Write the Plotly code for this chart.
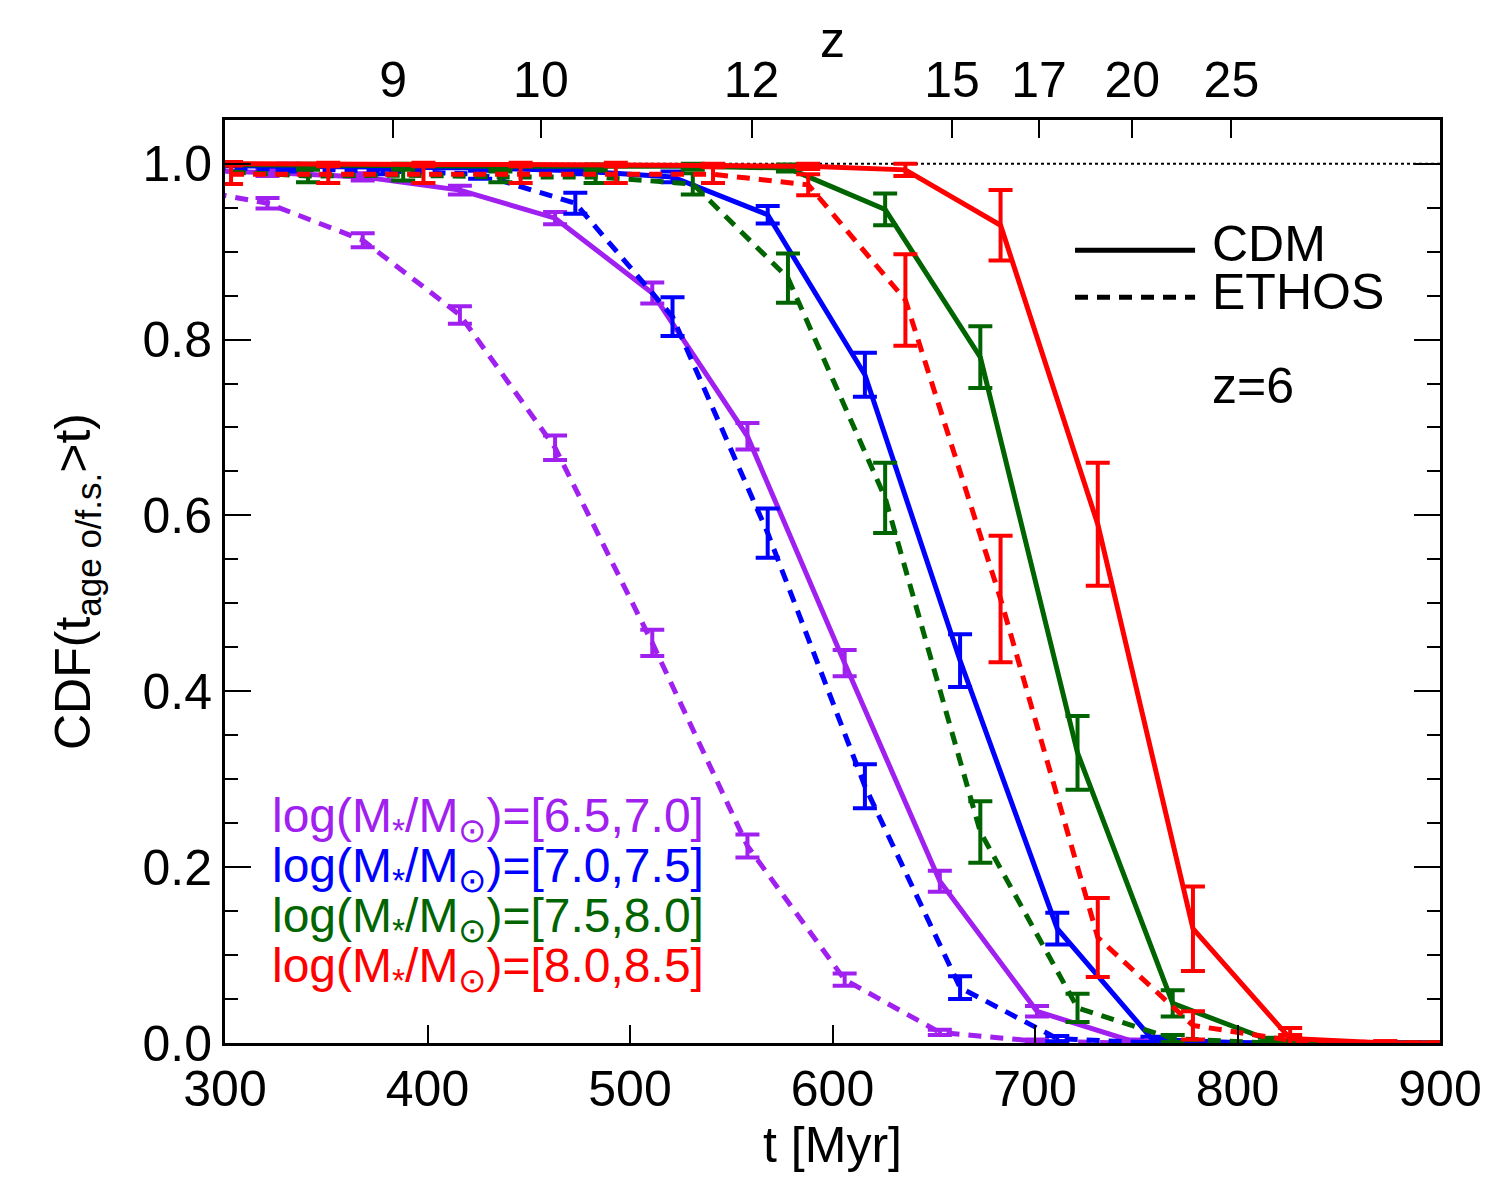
import plotly.graph_objects as go

# ---------------- data ----------------
t_purple = [273, 321, 368, 416, 463, 511, 558, 606, 653, 701, 748, 796, 843, 891]
t_blue   = [283, 331, 378, 426, 473, 521, 568, 616, 663, 711, 758, 806, 853, 901]
t_green  = [293, 341, 388, 436, 483, 531, 578, 626, 673, 721, 768, 816, 863, 911]
t_red    = [303, 351, 398, 446, 493, 541, 588, 636, 683, 731, 778, 826, 873, 921]

cdm_purple   = [0.993, 0.990, 0.985, 0.970, 0.938, 0.853, 0.690, 0.432, 0.184, 0.036, 0.002, 0.0, 0.0, 0.0]
cdm_purple_e = [0.003, 0.004, 0.004, 0.005, 0.007, 0.012, 0.015, 0.015, 0.012, 0.006, 0.002, 0.0, 0.0, 0.0]
eth_purple   = [0.975, 0.955, 0.913, 0.828, 0.677, 0.455, 0.224, 0.072, 0.012, 0.002, 0.0, 0.0, 0.0, 0.0]
eth_purple_e = [0.004, 0.006, 0.008, 0.010, 0.014, 0.015, 0.013, 0.007, 0.003, 0.002, 0.0, 0.0, 0.0, 0.0]

cdm_blue   = [0.998, 0.997, 0.996, 0.995, 0.992, 0.985, 0.942, 0.760, 0.435, 0.130, 0.004, 0.0, 0.0, 0.0]
cdm_blue_e = [0.002, 0.003, 0.003, 0.003, 0.004, 0.006, 0.010, 0.025, 0.030, 0.018, 0.003, 0.0, 0.0, 0.0]
eth_blue   = [0.996, 0.994, 0.992, 0.988, 0.955, 0.826, 0.580, 0.292, 0.063, 0.005, 0.0, 0.0, 0.0, 0.0]
eth_blue_e = [0.003, 0.003, 0.004, 0.005, 0.012, 0.022, 0.028, 0.025, 0.013, 0.003, 0.001, 0.0, 0.0, 0.0]

cdm_green   = [0.999, 0.998, 0.998, 0.997, 0.997, 0.997, 0.995, 0.948, 0.780, 0.330, 0.045, 0.003, 0.0, 0.0]
cdm_green_e = [0.002, 0.002, 0.002, 0.002, 0.002, 0.003, 0.004, 0.018, 0.035, 0.042, 0.015, 0.003, 0.0, 0.0]
eth_green   = [0.992, 0.986, 0.987, 0.985, 0.985, 0.977, 0.870, 0.620, 0.240, 0.040, 0.005, 0.0, 0.0, 0.0]
eth_green_e = [0.005, 0.007, 0.006, 0.006, 0.007, 0.012, 0.028, 0.040, 0.035, 0.016, 0.004, 0.001, 0.0, 0.0]

cdm_red   = [1.000, 0.999, 0.999, 0.999, 0.999, 0.998, 0.997, 0.993, 0.930, 0.590, 0.130, 0.005, 0.0, 0.0]
cdm_red_e = [0.002, 0.002, 0.002, 0.002, 0.002, 0.002, 0.003, 0.007, 0.040, 0.070, 0.048, 0.012, 0.002, 0.0]
eth_red   = [0.988, 0.988, 0.988, 0.988, 0.988, 0.988, 0.976, 0.845, 0.505, 0.120, 0.020, 0.003, 0.0, 0.0]
eth_red_e = [0.011, 0.010, 0.010, 0.010, 0.010, 0.010, 0.012, 0.052, 0.072, 0.045, 0.016, 0.006, 0.002, 0.0]

bin_labels = ["[6.5,7.0]", "[7.0,7.5]", "[7.5,8.0]", "[8.0,8.5]"]

z_ticks_t = [383, 456, 560, 659, 702, 748, 797]
z_ticks_label = ["9", "10", "12", "15", "17", "20", "25"]

x_ticks = [300, 400, 500, 600, 700, 800, 900]
y_ticks = [0.0, 0.2, 0.4, 0.6, 0.8, 1.0]

# ---------------- styling ----------------
PURPLE = "#A020F0"
BLUE = "#0000FF"
GREEN = "#006400"
RED = "#FF0000"
FONT = "Liberation Sans, Arial, Helvetica, sans-serif"
FS = 48
FT = 50
DASH = "13px,9px"

series = [
    (t_purple, cdm_purple, cdm_purple_e, eth_purple, eth_purple_e, PURPLE),
    (t_blue, cdm_blue, cdm_blue_e, eth_blue, eth_blue_e, BLUE),
    (t_green, cdm_green, cdm_green_e, eth_green, eth_green_e, GREEN),
    (t_red, cdm_red, cdm_red_e, eth_red, eth_red_e, RED),
]

fig = go.Figure()
for t, c, ce, e, ee, col in series:
    fig.add_trace(go.Scatter(
        x=t, y=c, mode="lines", line=dict(color=col, width=5),
        error_y=dict(type="data", array=ce, color=col, thickness=4, width=12, visible=True),
        showlegend=False, hoverinfo="skip"))
    fig.add_trace(go.Scatter(
        x=t, y=e, mode="lines", line=dict(color=col, width=5, dash=DASH),
        error_y=dict(type="data", array=ee, color=col, thickness=4, width=12, visible=True),
        showlegend=False, hoverinfo="skip"))

# dummy trace to activate the secondary (top / right) axes
fig.add_trace(go.Scatter(x=[x_ticks[0]], y=[None], xaxis="x2", yaxis="y2",
                         mode="lines", showlegend=False, hoverinfo="skip"))

# reference line at CDF = 1
fig.add_shape(type="line", xref="paper", x0=0, x1=1, yref="y", y0=1.0, y1=1.0,
              line=dict(color="black", width=2, dash="dot"), layer="below")

# legend for line styles
fig.add_shape(type="line", xref="paper", yref="paper", x0=0.6996, x1=0.7984, y0=0.859, y1=0.859,
              line=dict(color="black", width=5))
fig.add_shape(type="line", xref="paper", yref="paper", x0=0.6996, x1=0.7984, y0=0.808, y1=0.808,
              line=dict(color="black", width=5, dash=DASH))
fig.add_annotation(xref="paper", yref="paper", x=0.811, y=0.866, text="CDM", showarrow=False,
                   xanchor="left", yanchor="middle", font=dict(family=FONT, size=FT, color="black"))
fig.add_annotation(xref="paper", yref="paper", x=0.811, y=0.814, text="ETHOS", showarrow=False,
                   xanchor="left", yanchor="middle", font=dict(family=FONT, size=FT, color="black"))
fig.add_annotation(xref="paper", yref="paper", x=0.811, y=0.712, text="z=6", showarrow=False,
                   xanchor="left", yanchor="middle", font=dict(family=FONT, size=FT, color="black"))

# top-axis title
fig.add_annotation(xref="paper", yref="paper", x=0.5, y=1.087, text="z", showarrow=False,
                   xanchor="center", yanchor="middle", font=dict(family=FONT, size=FT, color="black"))

# mass-bin labels
label_y = [0.243, 0.189, 0.134, 0.080]
for lab, col, yy in zip(bin_labels, [PURPLE, BLUE, GREEN, RED], label_y):
    fig.add_annotation(xref="paper", yref="paper", x=0.037, y=yy,
                       text="log(M<sub>*</sub>/M<sub>⊙</sub>)=" + lab, showarrow=False,
                       xanchor="left", yanchor="middle", font=dict(family=FONT, size=FS, color=col))

axis_common = dict(showgrid=False, zeroline=False, linecolor="black", linewidth=3,
                   ticks="inside", tickcolor="black", tickwidth=2,
                   tickfont=dict(family=FONT, size=FT, color="black"))

fig.update_layout(
    width=1500, height=1200,
    margin=dict(l=225, r=60, t=120, b=157),
    paper_bgcolor="white", plot_bgcolor="white",
    font=dict(family=FONT, size=FT, color="black"),
    xaxis=dict(range=[300, 900], tickvals=x_ticks, ticklen=18, mirror=True,
               title=dict(text="t [Myr]", font=dict(family=FONT, size=FT), standoff=8),
               **axis_common),
    yaxis=dict(range=[0, 1.0497], tickvals=y_ticks, tickformat=".1f", ticklen=26, mirror=True,
               minor=dict(dtick=0.05, ticklen=13, ticks="inside", tickwidth=2, tickcolor="black"),
               title=dict(text="CDF(t<sub>age o/f.s.</sub>>t)", font=dict(family=FONT, size=FT), standoff=36),
               **axis_common),
    xaxis2=dict(range=[300, 900], overlaying="x", side="top", anchor="y",
                tickvals=z_ticks_t, ticktext=z_ticks_label, ticklen=18,
                **axis_common),
    yaxis2=dict(range=[0, 1.0497], overlaying="y", side="right", anchor="x",
                tickvals=y_ticks, ticklen=26, showticklabels=False,
                minor=dict(dtick=0.05, ticklen=13, ticks="inside", tickwidth=2, tickcolor="black"),
                **axis_common),
)

fig.write_html("out.html")
